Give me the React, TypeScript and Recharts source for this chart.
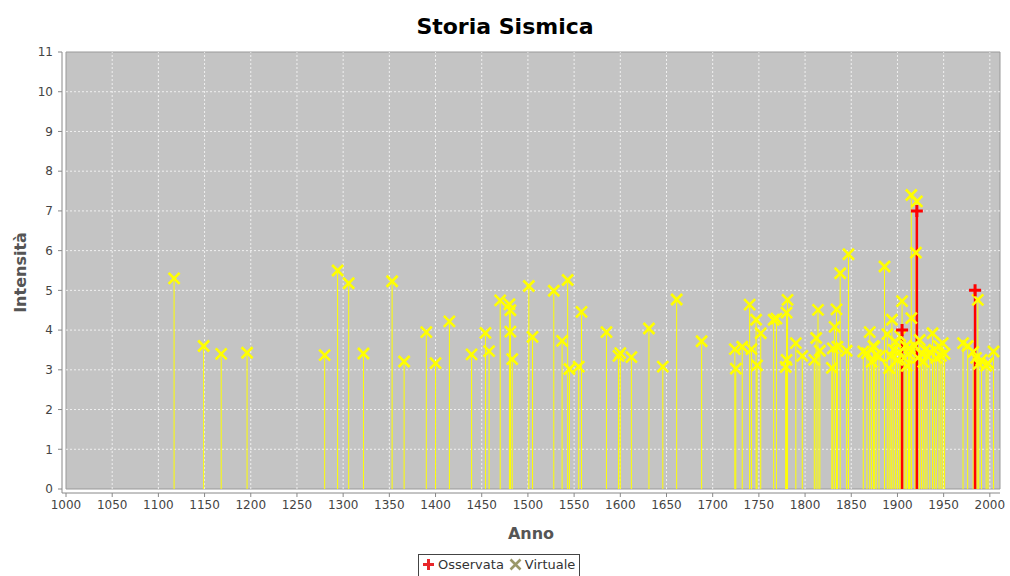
import React from 'react';
import {
  ComposedChart,
  Scatter,
  ErrorBar,
  XAxis,
  YAxis,
  ReferenceArea,
  ReferenceLine,
  Legend
} from 'recharts';

// Virtuale: eventi stimati (anno, intensità)
const virtualYears = [
  1117, 1149, 1168, 1196, 1280, 1294, 1306, 1322, 1353, 1366, 1390, 1400, 1415, 1439, 1454, 1458,
  1470, 1480, 1481, 1481, 1483, 1501, 1505, 1528, 1537, 1543, 1545, 1555, 1558, 1585, 1598, 1600,
  1612, 1631, 1646, 1661, 1688,
  1724, 1725, 1732, 1740, 1742, 1747, 1748, 1752, 1766, 1769, 1779, 1780, 1780, 1781, 1790, 1797,
  1810, 1812, 1814, 1816, 1829, 1830, 1832, 1834, 1835, 1838, 1845, 1847, 1863, 1867, 1870, 1872,
  1874, 1875, 1877, 1880, 1886, 1889, 1891, 1893, 1894, 1896, 1898, 1900, 1902, 1903, 1905, 1907,
  1909, 1910, 1912, 1913, 1915, 1915, 1919, 1920, 1921, 1922, 1924, 1926, 1928, 1930, 1932, 1935,
  1938, 1940, 1942, 1945, 1947, 1949, 1951, 1971, 1976, 1982, 1985, 1987, 1988, 1991, 1996, 1998,
  2004
];
const virtualIntensity = [
  5.3, 3.6, 3.4, 3.43, 3.37, 5.5, 5.18, 3.41, 5.23, 3.21, 3.95, 3.17, 4.22, 3.39, 3.93, 3.47,
  4.75, 4.65, 4.5, 3.96, 3.27, 5.11, 3.83, 4.99, 3.73, 5.26, 3.02, 3.08, 4.46, 3.95, 3.35, 3.42,
  3.32, 4.04, 3.08, 4.77, 3.72,
  3.52, 3.03, 3.58, 4.64, 3.52, 4.26, 3.11, 3.92, 4.26, 4.29, 3.07, 3.25, 4.44, 4.76, 3.67, 3.35,
  3.25, 3.8, 4.51, 3.48, 3.05, 3.54, 4.08, 4.52, 3.58, 5.43, 3.48, 5.91, 3.46, 3.42, 3.95, 3.2,
  3.6, 3.58, 3.37, 3.33, 5.6, 3.9, 3.04, 3.35, 4.26, 3.5, 3.7, 3.25, 3.45, 3.85, 4.73, 3.3,
  3.6, 3.1, 3.4, 3.55, 7.4, 4.3, 3.6, 5.95, 7.24, 3.3, 3.75, 3.4, 3.2, 3.5, 3.35, 3.45,
  3.92, 3.5, 3.3, 3.6, 3.35, 3.67, 3.4, 3.67, 3.6, 3.45, 3.3, 4.76, 3.15, 3.25, 3.1, 3.17,
  3.46
];

// Osservata
const observedYears = [1905, 1921, 1984];
const observedIntensity = [4.0, 7.0, 5.0];

const yearTicks = [
  1000, 1050, 1100, 1150, 1200, 1250, 1300, 1350, 1400, 1450, 1500,
  1550, 1600, 1650, 1700, 1750, 1800, 1850, 1900, 1950, 2000
];
const intensityTicks = [0, 1, 2, 3, 4, 5, 6, 7, 8, 9, 10, 11];

const toPoints = (years: number[], values: number[]) =>
  years.map((anno, i) => ({ anno, intensita: values[i], stelo: [values[i], 0] }));

const virtualData = toPoints(virtualYears, virtualIntensity);
const observedData = toPoints(observedYears, observedIntensity);

const YELLOW = '#ffff00';
const RED = '#ff0000';
const GRID = { stroke: '#ffffff', strokeDasharray: '2 2', strokeOpacity: 0.75, strokeWidth: 1 };

const XMark = (props: any) => {
  const { cx, cy } = props;
  if (cx == null || cy == null) return null;
  const s = 5.5;
  return (
    <path
      d={`M${cx - s},${cy - s}L${cx + s},${cy + s}M${cx - s},${cy + s}L${cx + s},${cy - s}`}
      stroke={YELLOW}
      strokeWidth={2.6}
      fill="none"
    />
  );
};

const PlusMark = (props: any) => {
  const { cx, cy } = props;
  if (cx == null || cy == null) return null;
  const s = 6;
  return (
    <path
      d={`M${cx - s},${cy}L${cx + s},${cy}M${cx},${cy - s}L${cx},${cy + s}`}
      stroke={RED}
      strokeWidth={3}
      fill="none"
    />
  );
};

const LegendBox = () => (
  <div
    style={{
      display: 'inline-flex',
      alignItems: 'center',
      border: '1px solid #444',
      padding: '2px 4px 4px 3px',
      background: '#fff',
      fontSize: 13,
      color: '#333',
      fontFamily: 'DejaVu Sans, sans-serif',
      whiteSpace: 'nowrap'
    }}
  >
    <svg width={13} height={13} style={{ marginRight: 3 }}>
      <path d="M1,6.5L12,6.5M6.5,1L6.5,12" stroke="#e8262a" strokeWidth={3} />
    </svg>
    <span style={{ marginRight: 5 }}>Osservata</span>
    <svg width={13} height={13} style={{ marginRight: 3 }}>
      <path d="M1.5,1.5L11.5,11.5M1.5,11.5L11.5,1.5" stroke="#9a9868" strokeWidth={2.6} />
    </svg>
    <span>Virtuale</span>
  </div>
);

const App: React.FC = () => {
  return (
    <div
      style={{
        position: 'absolute',
        left: 0,
        top: 0,
        width: 1010,
        height: 576,
        background: '#fff',
        fontFamily: 'DejaVu Sans, sans-serif',
        overflow: 'hidden'
      }}
    >
      <div
        style={{
          position: 'absolute',
          top: 14,
          left: 0,
          width: 1010,
          textAlign: 'center',
          fontSize: 22,
          lineHeight: '26px',
          fontWeight: 'bold',
          color: '#000'
        }}
      >
        Storia Sismica
      </div>
      <ComposedChart
        width={1010}
        height={576}
        margin={{ top: 52, right: 10, bottom: 33, left: 0 }}
      >
        <XAxis
          dataKey="anno"
          type="number"
          domain={[1000, 2011]}
          ticks={yearTicks}
          interval={0}
          allowDataOverflow
          padding={{ left: 4 }}
          height={50}
          stroke="#888"
          tickSize={4}
          tickMargin={3}
          tick={{ fontSize: 12, fill: '#444' }}
          label={{ value: 'Anno', position: 'insideBottom', offset: 4, fontSize: 16, fontWeight: 'bold', fill: '#555' }}
        />
        <YAxis
          dataKey="intensita"
          type="number"
          domain={[0, 11]}
          ticks={intensityTicks}
          interval={0}
          allowDataOverflow
          padding={{ bottom: 4 }}
          width={62}
          stroke="#888"
          tickSize={4}
          tickMargin={5}
          tick={{ fontSize: 12, fill: '#444' }}
          label={{
            value: 'Intensità',
            angle: -90,
            position: 'insideLeft',
            offset: 20,
            fontSize: 16,
            fontWeight: 'bold',
            fill: '#555',
            style: { textAnchor: 'middle' }
          }}
        />
        <ReferenceArea x1={1000} x2={2011} y1={0} y2={11} fill="#c4c4c4" fillOpacity={1} stroke="#999" />
        {yearTicks.slice(1).map((t) => (
          <ReferenceLine key={`vx-${t}`} x={t} {...GRID} />
        ))}
        {intensityTicks.slice(1, -1).map((t) => (
          <ReferenceLine key={`hy-${t}`} y={t} {...GRID} />
        ))}
        <Scatter name="Virtuale" data={virtualData} dataKey="intensita" shape={XMark} isAnimationActive={false}>
          <ErrorBar dataKey="stelo" direction="y" width={0} stroke={YELLOW} strokeWidth={1} isAnimationActive={false} />
        </Scatter>
        <Scatter name="Osservata" data={observedData} dataKey="intensita" shape={PlusMark} isAnimationActive={false}>
          <ErrorBar dataKey="stelo" direction="y" width={0} stroke={RED} strokeWidth={2.5} isAnimationActive={false} />
        </Scatter>
        <Legend
          layout="horizontal"
          verticalAlign="middle"
          align="center"
          wrapperStyle={{ top: 554, left: 418, width: 'auto', height: 'auto' }}
          content={LegendBox}
        />
      </ComposedChart>
    </div>
  );
};

export default App;
